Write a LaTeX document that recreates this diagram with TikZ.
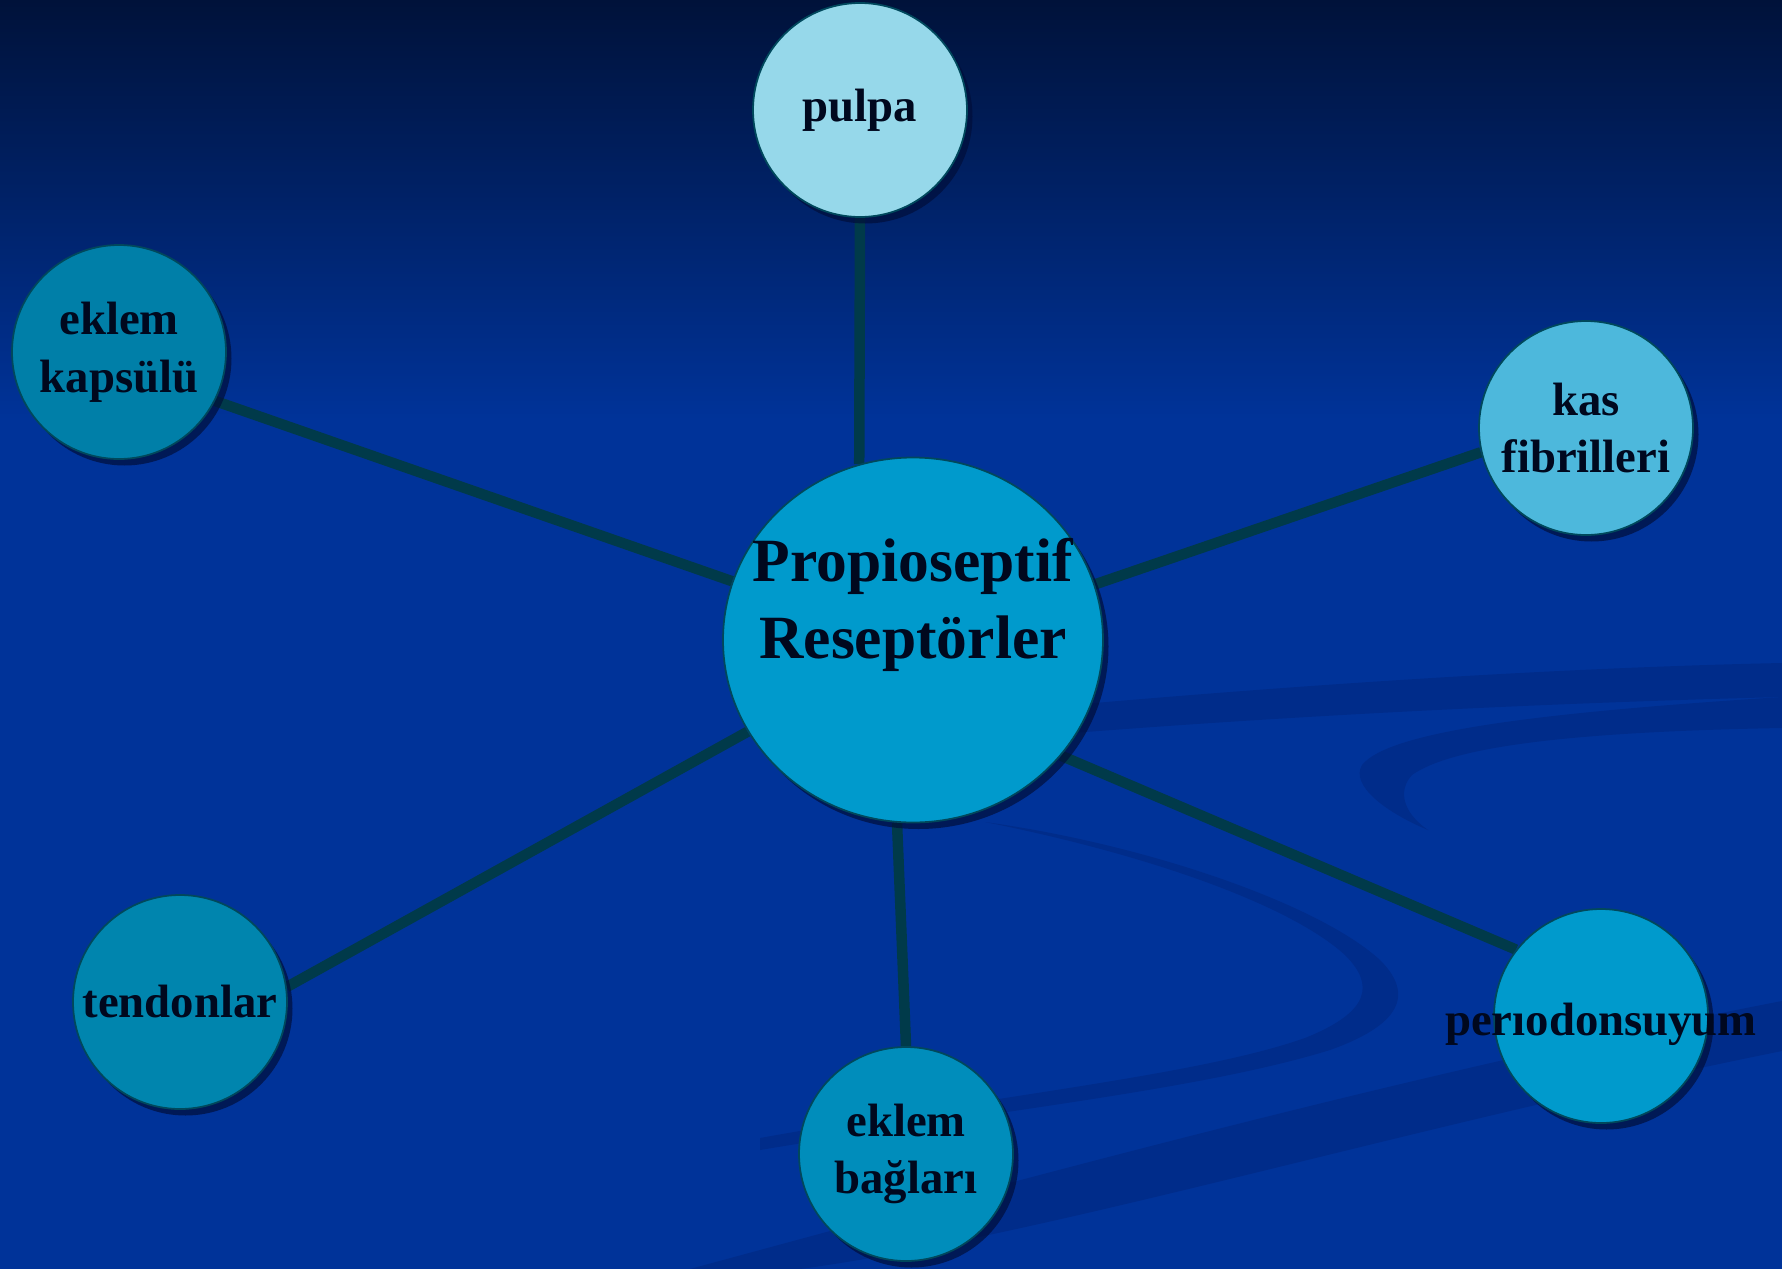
\documentclass[tikz,border=0pt]{standalone}
\usepackage{fontspec}
\setmainfont{Liberation Serif}
\usetikzlibrary{positioning,shapes.geometric,shadows,backgrounds}

\definecolor{bgtop}{RGB}{0,18,58}
\definecolor{bgblue}{RGB}{0,51,153}
\definecolor{bandblue}{RGB}{0,44,138}
\definecolor{linkteal}{RGB}{0,58,74}
\definecolor{rimteal}{RGB}{0,72,92}
\definecolor{shadenavy}{RGB}{0,14,58}
\definecolor{inkblue}{RGB}{0,8,30}
\definecolor{hubfill}{RGB}{0,154,204}
\definecolor{pulpafill}{RGB}{150,216,234}
\definecolor{kasfill}{RGB}{77,184,220}
\definecolor{kapsulfill}{RGB}{0,127,168}
\definecolor{tendonfill}{RGB}{0,133,174}
\definecolor{bagfill}{RGB}{0,141,187}

\begin{document}
\begin{tikzpicture}
    [x=0.1mm, y=-0.1mm,
     ball/.style={draw=rimteal, line width=0.5pt, inner sep=0pt,
       drop shadow={shadow xshift=0.55mm, shadow yshift=-0.65mm, fill=shadenavy, opacity=0.7}},
     leaf/.style={ball, circle, minimum size=21.4mm, text=inkblue, align=center,
       font=\fontsize{13.3}{16.4}\selectfont\bfseries},
     leaflabel/.style={text=inkblue, font=\fontsize{13.3}{16.4}\selectfont\bfseries},
     hub/.style={ball, ellipse, fill=hubfill, minimum width=38mm, minimum height=36.5mm},
     hubtitle/.style={text=inkblue, align=center, font=\fontsize{17.5}{21.9}\selectfont\bfseries},
     link/.style={draw=linkteal, line width=1.05mm},
     band/.style={fill=bandblue}]

    \useasboundingbox (0,0) rectangle (1782,1269);

    % backdrop
    \begin{scope}[on background layer]
      \fill[bgblue] (0,0) rectangle (1782,1269);
      \shade[top color=bgtop, bottom color=bgblue] (0,0) rectangle (1782,420);
      \fill[band] (1060,706) .. controls (1300,685) and (1550,668) .. (1782,663)
        -- (1782,697) .. controls (1550,703) and (1300,715) .. (1060,734) -- cycle;
      \fill[band] (1782,697) .. controls (1550,712) and (1390,730) .. (1362,765)
        .. controls (1350,785) and (1385,812) .. (1428,830)
        .. controls (1402,812) and (1398,790) .. (1412,775)
        .. controls (1450,748) and (1560,732) .. (1782,728) -- cycle;
      \fill[band] (985,822) .. controls (1150,845) and (1320,905) .. (1380,960)
        .. controls (1415,995) and (1400,1025) .. (1330,1050)
        .. controls (1200,1090) and (1000,1110) .. (760,1150)
        -- (760,1138) .. controls (1000,1095) and (1200,1075) .. (1305,1038)
        .. controls (1370,1012) and (1375,985) .. (1345,955)
        .. controls (1290,905) and (1150,855) .. (985,822) -- cycle;
      \fill[band] (690,1269) .. controls (1000,1185) and (1400,1075) .. (1782,1001)
        -- (1782,1051) .. controls (1400,1128) and (1050,1235) .. (800,1269) -- cycle;
    \end{scope}

    \node[hub] (hub) at (913,640) {};
    \node[hubtitle] (hubtext) at ([yshift=3.5mm]hub.center) {Propioseptif\\Reseptörler};

    \node[leaf, fill=pulpafill] (pulpa) at (860,110) {pulpa};
    \node[leaf, fill=kapsulfill] (kapsul) at (119,352) {eklem\\kapsülü};
    \node[leaf, fill=kasfill] (kas) at (1586,428) {kas\\fibrilleri};
    \node[leaf, fill=tendonfill] (tendon) at (180,1002) {tendonlar};
    \node[leaf, fill=bagfill] (bag) at (906,1154) {eklem\\bağları};
    \node[leaf, fill=hubfill,
          label={[leaflabel, yshift=-0.8mm]center:perıodonsuyum}] (perio) at (1601,1016) {};

    % spokes, under the balls
    \begin{scope}[on background layer]
      \draw[link] (pulpa.south) -- (hub.107);
      \draw[link] (kapsul.333) -- (hub.162);
      \draw[link] (kas.193) -- (hub.17);
      \draw[link] (tendon.8) -- (hub.209);
      \draw[link] (bag.north) -- (hub.265);
      \draw[link] (perio.142) -- (hub.322);
    \end{scope}
\end{tikzpicture}
\end{document}
